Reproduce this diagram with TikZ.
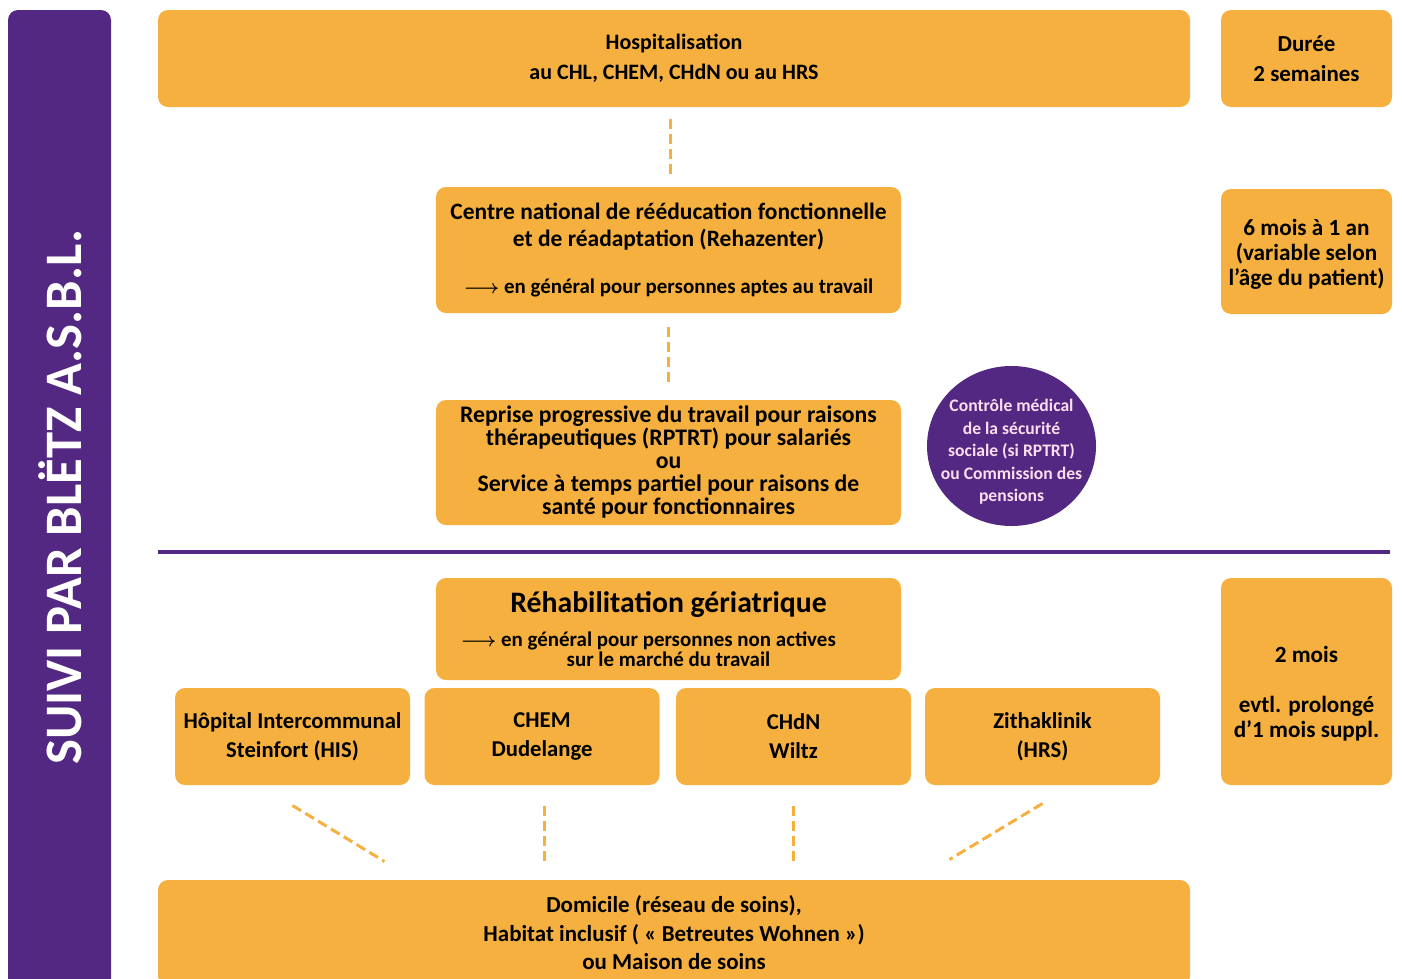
\documentclass[tikz,border=0pt]{standalone}
\usepackage{fontspec}
\setmainfont{Carlito}
\usetikzlibrary{calc,shapes.geometric}

\definecolor{boxorange}{RGB}{245,176,63}
\definecolor{bletzpurple}{RGB}{82,40,130}
\definecolor{circletext}{RGB}{250,222,238}

\tikzset{every picture/.style={line width=0.75pt}}

\begin{document}
\begin{tikzpicture}[x=0.75pt,y=0.75pt,yscale=-1,xscale=1]
        \useasboundingbox (0,0) rectangle (1402,978);
        \clip (0,0) rectangle (1402,978);

        \tikzset{
          obox/.style={fill=boxorange, draw=none, rounded corners=7.5pt, align=center, font=\bfseries, inner sep=0pt},
          dashline/.style={draw=boxorange, line width=2.25pt, dash pattern=on 7.5pt off 3.75pt},
          lowbox/.style={obox, minimum width=176.25pt, minimum height=72.75pt, font=\bfseries\fontsize{17}{21.75}\selectfont}
        }

        %Shape: side bar
        \node (side) [fill=bletzpurple, rounded corners=7.5pt, minimum width=77.25pt, minimum height=735pt, inner sep=0pt] at (59.5,500) {};
        % Text Node
        \node (sidetext) [rotate=90, text=white, font=\bfseries\fontsize{39.5}{40}\selectfont] at (60,497) {SUIVI PAR BLËTZ A.S.B.L.};

        %Shape: top row
        \node (hosp) [obox, minimum width=774pt, minimum height=72.75pt, font=\bfseries\fontsize{16.5}{22.5}\selectfont] at (674,58.5)
          {Hospitalisation\\au CHL, CHEM, CHdN ou au HRS};
        \node (duree) [obox, minimum width=128.25pt, minimum height=72.75pt, font=\bfseries\fontsize{17.2}{22.5}\selectfont] at (1306.5,58.5)
          {Durée\\2 semaines};

        %Shape: Rehazenter
        \node (reha) [obox, minimum width=348.75pt, minimum height=94.5pt, font=\bfseries\fontsize{17.6}{20.25}\selectfont] at (668.5,250)
          {Centre national de rééducation fonctionnelle\\et de réadaptation (Rehazenter)\\[15pt]
           {\fontsize{15.7}{16}\selectfont{\boldmath$\longrightarrow$} en général pour personnes aptes au travail}};
        \node (sixmois) [obox, minimum width=128.25pt, minimum height=93.75pt, font=\bfseries\fontsize{17.4}{18.75}\selectfont] at (1306.5,251.5)
          {\rule{0pt}{17pt}6 mois à 1 an\\(variable selon\\l’âge du patient)};

        %Shape: RPTRT
        \node (rptrt) [obox, minimum width=348.75pt, minimum height=93.75pt, font=\bfseries\fontsize{17.8}{17.25}\selectfont] at (668.5,462.5)
          {Reprise progressive du travail pour raisons\\thérapeutiques (RPTRT) pour salariés\\ou\\Service à temps partiel pour raisons de\\santé pour fonctionnaires};
        %Shape: Circle
        \node (cns) [ellipse, fill=bletzpurple, minimum width=126.75pt, minimum height=120pt, inner sep=0pt] at (1011.5,446) {};
        % Text Node
        \node (cnstext) [align=center, inner sep=0pt, text=circletext, font=\bfseries\fontsize{13.2}{16.9}\selectfont] at ($(cns.center)+(0,6)$)
          {Contrôle médical\\de la sécurité\\sociale (si RPTRT)\\ou Commission des\\pensions};

        %Straight Lines: separator
        \draw [bletzpurple, line width=3pt] (158,552) -- (1390,552);

        %Shape: geriatric
        \node (geria) [obox, minimum width=348.75pt, minimum height=76.5pt, font=\bfseries\fontsize{15.7}{15}\selectfont] at (668.5,629)
          {{\fontsize{22.3}{20}\selectfont Réhabilitation gériatrique}\\[11pt]
           \llap{{\boldmath$\longrightarrow$}\ }en général pour personnes non actives\\sur le marché du travail};
        \node (deuxmois) [obox, minimum width=128.25pt, minimum height=155.25pt, font=\bfseries\fontsize{17.4}{18.75}\selectfont] at (1306.5,681.5)
          {\rule{0pt}{30pt}2 mois\\[18.75pt]evtl. prolongé\\d’1 mois suppl.};

        \node (his) [lowbox] at (292.5,736.5) {Hôpital Intercommunal\\Steinfort (HIS)};
        \node (chem) [lowbox] at (542,736.5) {CHEM\\Dudelange};
        \node (chdn) [lowbox] at (793.5,736.5) {CHdN\\Wiltz};
        \node (zitha) [lowbox] at (1042.5,736.5) {Zithaklinik\\(HRS)};

        %Shape: home
        \node (home) [obox, minimum width=774pt, minimum height=79.5pt, font=\bfseries\fontsize{17.2}{21.4}\selectfont] at (674,933)
          {Domicile (réseau de soins),\\Habitat inclusif ( « Betreutes Wohnen »)\\ou Maison de soins};

        %Dashed Lines
        \draw [dashline, shorten <=8.25pt, shorten >=6.75pt] ($(reha.north |- hosp.south)+(1.5,0)$) -- ($(reha.north)+(1.5,0)$);
        \draw [dashline, shorten <=9.75pt, shorten >=10.5pt] (reha.south) -- (rptrt.north);
        \draw [dashline] ($(his.south)+(0,20)$) -- ($(home.north west)+(227,-18)$);
        \draw [dashline, shorten <=15pt, shorten >=13.5pt] ($(chem.south)+(2,0)$) -- ($(chem.south |- home.north)+(2,0)$);
        \draw [dashline, shorten <=15pt, shorten >=13.5pt] (chdn.south) -- (chdn.south |- home.north);
        \draw [dashline] ($(zitha.south)+(0,18)$) -- ($(home.north west)+(792,-20)$);

\end{tikzpicture}
\end{document}
